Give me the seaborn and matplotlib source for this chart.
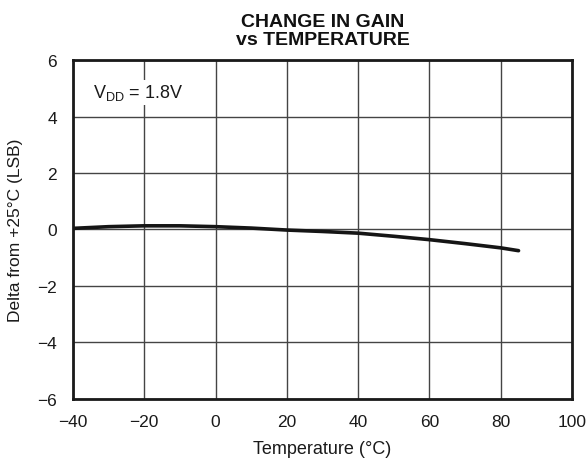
import matplotlib
matplotlib.use("Agg")
import matplotlib.pyplot as plt
import pandas as pd
import seaborn as sns

# Data
temperature = [-40, -30, -20, -10, 0, 10, 20, 30, 40, 50, 60, 70, 80, 85]
delta_gain = [0.04, 0.10, 0.13, 0.13, 0.10, 0.05, -0.02, -0.07, -0.13, -0.24, -0.36, -0.50, -0.65, -0.75]
x_ticks = [-40, -20, 0, 20, 40, 60, 80, 100]
y_ticks = [-6, -4, -2, 0, 2, 4, 6]

df = pd.DataFrame({"Temperature": temperature, "Delta": delta_gain})

sns.set_style("white")
plt.rcParams['font.family'] = ['Liberation Sans', 'DejaVu Sans']
plt.rcParams['mathtext.fontset'] = 'custom'
plt.rcParams['mathtext.rm'] = 'Liberation Sans'
plt.rcParams['text.color'] = '#111111'

fig = plt.figure(figsize=(5.86, 4.64), dpi=100)
ax = fig.add_axes([0.1246, 0.138, 0.8515, 0.7305])

sns.lineplot(df, x="Temperature", y="Delta", ax=ax, color="#151515", linewidth=2.6)

ax.set_xlim(-40, 100)
ax.set_ylim(-6, 6)
ax.set_xticks(x_ticks)
ax.set_yticks(y_ticks)
ax.set_xticklabels([str(t).replace("-", "\u2212") for t in x_ticks])
ax.set_yticklabels([str(t).replace("-", "\u2212") for t in y_ticks])
ax.tick_params(length=0, labelsize=12.5, colors="#1a1a1a")
ax.tick_params(axis="x", pad=11)
ax.tick_params(axis="y", pad=11.5)
ax.grid(True, color="#444444", linewidth=1.0)
for s in ax.spines.values():
    s.set_linewidth(2.0)
    s.set_color("#1a1a1a")

ax.set_xlabel("Temperature (\u00b0C)", fontsize=13, color="#1a1a1a")
ax.set_ylabel("Delta from +25\u00b0C (LSB)", fontsize=12.5, color="#1a1a1a")
ax.xaxis.set_label_coords(0.5, -0.12)
ax.yaxis.set_label_coords(-0.1, 0.5)
ax.set_title("CHANGE IN GAIN\nvs TEMPERATURE", fontsize=14, fontweight="bold", linespacing=1.1, pad=11.5,
             color="#111111")

ax.text(-34.5, 4.68, r"$\mathregular{V_{DD}}$ = 1.8V", fontsize=13, va="baseline", ha="left",
        color="#1a1a1a", bbox=dict(facecolor="white", edgecolor="none", pad=2))

fig.savefig("out.png", dpi=100)
